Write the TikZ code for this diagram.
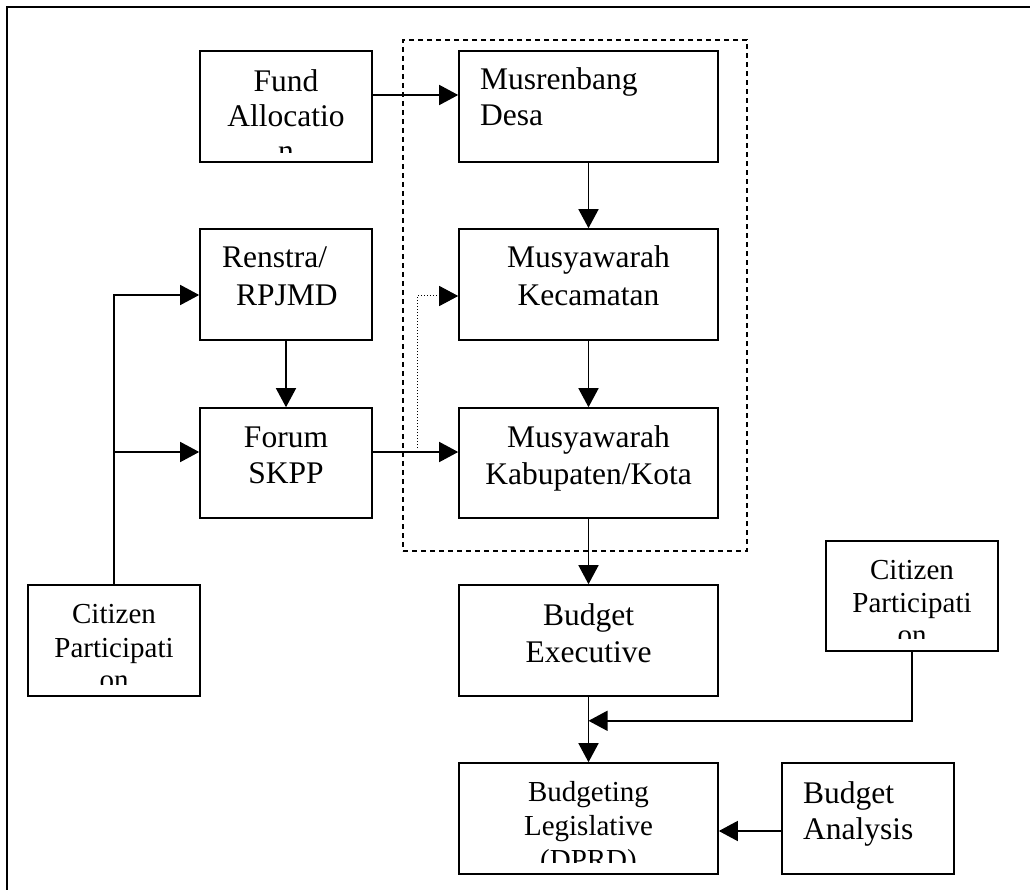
\documentclass[tikz,border=0pt]{standalone}
\usepackage{fontspec}
\setmainfont{Liberation Serif}
\usetikzlibrary{arrows.meta}
\begin{document}
\begin{tikzpicture}[x=1pt,y=-1pt,
  box/.style={draw,rectangle,line width=1.6pt,inner sep=0pt,minimum width=#1},
  box/.default=172pt,
  ta/.style={font=\fontsize{31.5}{36}\selectfont,inner sep=0pt,anchor=base},
  tb/.style={font=\fontsize{29}{34}\selectfont,inner sep=0pt,anchor=base},
  arr/.style={line width=1.5pt,-{Triangle[length=19pt,width=20pt]}},
  dots/.style={line width=1pt,dash pattern=on 1pt off 2pt,-{Triangle[length=19pt,width=20pt]}},
  grp/.style={draw,line width=1.3pt,dash pattern=on 5pt off 4pt,inner sep=0pt}]
\useasboundingbox (0,0) rectangle (1030,890);
% outer frame
\draw[line width=2pt] (7,890) -- (7,7) -- (1030,7);
% dashed group
\node[grp,minimum width=344pt,minimum height=511pt] (group) at (575,295.5) {};
% boxes
\node[box,minimum height=111pt] (fund) at (286,106.5) {};
\node[box=259pt,minimum height=111pt] (desa) at (588.5,106.5) {};
\node[box,minimum height=111pt] (renstra) at (286,284.5) {};
\node[box=259pt,minimum height=111pt] (kec) at (588.5,284.5) {};
\node[box,minimum height=110pt] (forum) at (286,463) {};
\node[box=259pt,minimum height=110pt] (kab) at (588.5,463) {};
\node[box,minimum height=111pt] (citL) at (114,640.5) {};
\node[box=259pt,minimum height=111pt] (exec) at (588.5,640.5) {};
\node[box,minimum height=110pt] (citR) at (912,596) {};
\node[box=259pt,minimum height=111pt] (leg) at (588.5,818.5) {};
\node[box,minimum height=111pt] (ana) at (868,818.5) {};
% texts
\begin{scope}
\clip ([yshift=-1pt]fund.north west) rectangle ([yshift=10pt]fund.south east);
\node[ta] (fundA) at (286,92) {Fund};
\node[ta] (fundB) at (286,127) {Allocatio};
\node[ta] (fundC) at (286,162) {n};
\end{scope}
\node[ta,anchor=base west] (desaA) at (480,90) {Musrenbang};
\node[ta,anchor=base west] (desaB) at (480,126) {Desa};
\node[ta,anchor=base west] (renA) at (222,268) {Renstra/};
\node[ta,anchor=base west] (renB) at (236,306) {RPJMD};
\node[ta] (kecA) at (588.5,268) {Musyawarah};
\node[ta] (kecB) at (588.5,306) {Kecamatan};
\node[ta] (forA) at (286,447) {Forum};
\node[ta] (forB) at (286,483) {SKPP};
\node[ta] (kabA) at (588.5,447) {Musyawarah};
\node[ta] (kabB) at (588.5,484) {Kabupaten/Kota};
\begin{scope}
\clip ([yshift=-1pt]citL.north west) rectangle ([yshift=12pt]citL.south east);
\node[tb] (citLA) at (114,623) {Citizen};
\node[tb] (citLB) at (114,657) {Participati};
\node[tb] (citLC) at (114,689) {on};
\end{scope}
\node[ta] (exeA) at (588.5,625) {Budget};
\node[ta] (exeB) at (588.5,662) {Executive};
\begin{scope}
\clip ([yshift=-1pt]citR.north west) rectangle ([yshift=13pt]citR.south east);
\node[tb] (citRA) at (912,579) {Citizen};
\node[tb] (citRB) at (912,612) {Participati};
\node[tb] (citRC) at (912,644) {on};
\end{scope}
\begin{scope}
\clip ([yshift=-1pt]leg.north west) rectangle ([yshift=12pt]leg.south east);
\node[tb] (legA) at (588.5,801) {Budgeting};
\node[tb] (legB) at (588.5,835) {Legislative};
\node[tb] (legC) at (588.5,869) {(DPRD)};
\end{scope}
\node[ta,anchor=base west] (anaA) at (803,803) {Budget};
\node[ta,anchor=base west] (anaB) at (803,839) {Analysis};
% connectors
\draw[arr] ([yshift=11.5pt]fund.east) -- ([yshift=11.5pt]desa.west);
\draw[arr] (desa.south) -- (kec.north);
\draw[arr] (kec.south) -- (kab.north);
\draw[arr] (kab.south) -- (exec.north);
\draw[arr] (exec.south) -- (leg.north);
\draw[arr] (renstra.south) -- (forum.north);
\draw[arr] (citL.north) |- ([yshift=-10.5pt]renstra.west);
\draw[arr] ([yshift=11pt]forum.west -| citL.north) -- ([yshift=11pt]forum.west);
\draw[arr] ([yshift=11pt]forum.east) -- ([yshift=11pt]kab.west);
\coordinate (dotstart) at (417,448);
\draw[dots] (dotstart) |- ([yshift=-11.5pt]kec.west);
\draw[arr] (citR.south) |- ([yshift=-24pt]exec.south);
\draw[arr] ([yshift=-12.5pt]ana.west) -- ([yshift=-12.5pt]leg.east);
\end{tikzpicture}
\end{document}
